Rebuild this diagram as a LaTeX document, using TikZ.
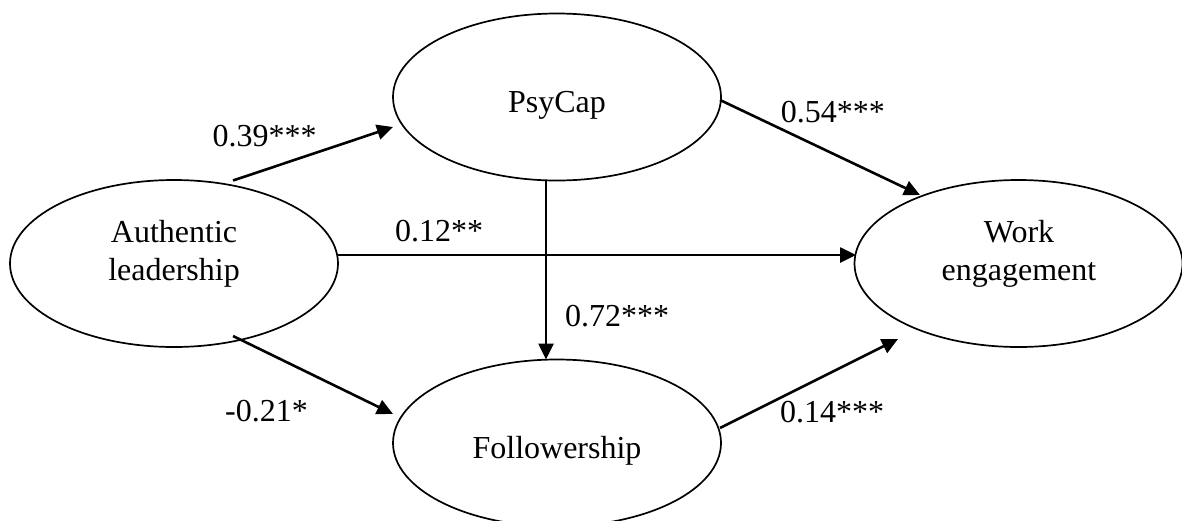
\documentclass[tikz,border=0pt]{standalone}
\usepackage{fontspec}
\setmainfont{Liberation Serif}
\usetikzlibrary{arrows.meta,calc,shapes.geometric}
\begin{document}
\begin{tikzpicture}[x=1pt,y=-1pt,
  latent/.style={ellipse,draw,line width=1.7pt,minimum width=328pt,minimum height=167pt,inner sep=0pt},
  effect/.style={-{Triangle[length=16pt,width=15pt]},line width=2.6pt},
  vartext/.style={anchor=base,inner sep=0pt},
  coef/.style={anchor=base west,inner sep=0pt},
  every node/.append style={font=\fontsize{32}{38}\selectfont}]
\useasboundingbox (0,0) rectangle (1182,520);

% latent variables
\node[latent] (al) at (174,263.5) {};
\node[latent] (pc) at (557,97) {};
\node[latent] (fw) at (557,443) {};
\node[latent] (we) at (1018.5,263.5) {};

% variable names
\node[vartext] (alA) at (174,242) {Authentic};
\node[vartext] (alB) at (174,280) {leadership};
\node[vartext] (pcA) at (557,112) {PsyCap};
\node[vartext] (fwA) at (557,458.5) {Followership};
\node[vartext] (weA) at (1019,242) {Work};
\node[vartext] (weB) at (1019,280) {engagement};

% structural paths
\draw[effect] ($(al.center)+(59,-83)$) -- ($(pc.center)+(-164,30)$);
\draw[effect] ($(al.center)+(164,-8.5)$) -- ($(we.center)+(-162.5,-8.5)$);
\draw[effect] ($(al.center)+(59,72.5)$) -- ($(fw.center)+(-164,-29)$);
\draw[effect] ($(pc.center)+(-11,83)$) -- ($(fw.center)+(-11,-83.5)$);
\draw[effect] ($(pc.center)+(163,3)$) -- ($(we.center)+(-98.5,-68.5)$);
\draw[effect] ($(fw.center)+(163,-15)$) -- ($(we.center)+(-120.5,75.5)$);

% path coefficients
\node[coef] (c1) at (212.5,146.7) {0.39***};
\node[coef] (c2) at (395,241.7) {0.12**};
\node[coef] (c3) at (780.7,122.7) {0.54***};
\node[coef] (c4) at (565,326) {0.72***};
\node[coef] (c5) at (225,421.7) {-0.21*};
\node[coef] (c6) at (780,422.7) {0.14***};
\end{tikzpicture}
\end{document}
